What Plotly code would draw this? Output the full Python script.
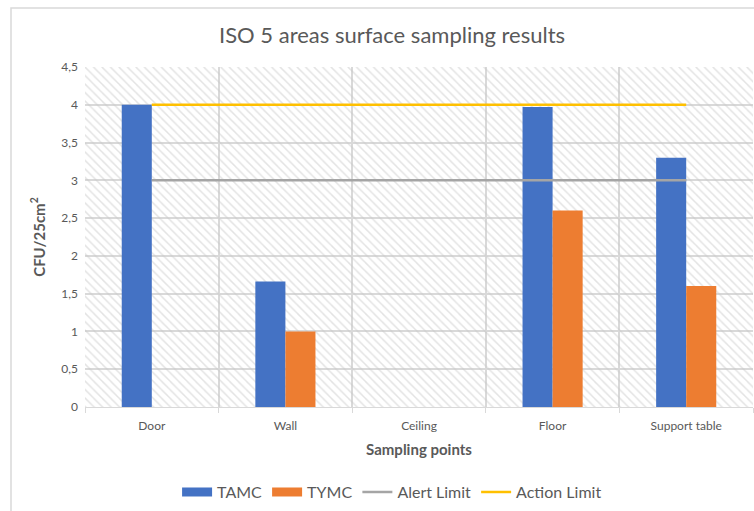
import plotly.graph_objects as go

# Sampling data (CFU/25 cm²)
categories = ["Door", "Wall", "Ceiling", "Floor", "Support table"]
tamc = [4.0, 1.66, 0.0, 3.97, 3.3]
tymc = [0.0, 1.0, 0.0, 2.6, 1.6]
alert_limit = [3, 3, 3, 3, 3]
action_limit = [4, 4, 4, 4, 4]
y_ticks = [0, 0.5, 1, 1.5, 2, 2.5, 3, 3.5, 4, 4.5]
y_tick_labels = ["0", "0,5", "1", "1,5", "2", "2,5", "3", "3,5", "4", "4,5"]

BLUE = "#4472C4"
ORANGE = "#ED7D31"
GREY = "#A5A5A5"
GOLD = "#FFC000"
GRID = "#D9D9D9"
TEXT = "#595959"
FONT = "Lato, 'Open Sans', sans-serif"

xs = list(range(len(categories)))
x_lo, x_hi = -0.5, len(categories) - 0.5
y_top = y_ticks[-1]
boundaries = [i - 0.5 for i in range(len(categories) + 1)]

fig = go.Figure()

# Diagonal hatched plot background on the base axes (drawn beneath the data)
fig.add_trace(go.Scatter(
    x=[x_lo, x_hi, x_hi, x_lo, x_lo], y=[0, 0, y_top, y_top, 0],
    mode="none", fill="toself", fillcolor="rgba(0,0,0,0)",
    fillpattern=dict(shape="\\", size=6, solidity=0.25,
                     fgcolor="#C8C8C8", bgcolor="rgba(0,0,0,0)"),
    hoverinfo="skip", showlegend=False,
))

# Data series on the overlaid axes
fig.add_trace(go.Bar(x=xs, y=tamc, name="TAMC", marker_color=BLUE,
                     marker_line_width=0, showlegend=False,
                     xaxis="x2", yaxis="y2"))
fig.add_trace(go.Bar(x=xs, y=tymc, name="TYMC", marker_color=ORANGE,
                     marker_line_width=0, showlegend=False,
                     xaxis="x2", yaxis="y2"))
fig.add_trace(go.Scatter(x=xs, y=alert_limit, mode="lines", name="Alert Limit",
                         line=dict(color=GREY, width=2.5), showlegend=False,
                         xaxis="x2", yaxis="y2"))
fig.add_trace(go.Scatter(x=xs, y=action_limit, mode="lines", name="Action Limit",
                         line=dict(color=GOLD, width=2.5), showlegend=False,
                         xaxis="x2", yaxis="y2"))

# Legend entries (wide swatches for the bar series)
for name, color, width in [("TAMC", BLUE, 9), ("TYMC", ORANGE, 9),
                           ("Alert Limit", GREY, 2.5), ("Action Limit", GOLD, 2.5)]:
    fig.add_trace(go.Scatter(x=[None], y=[None], mode="lines", name=name,
                             line=dict(color=color, width=width),
                             xaxis="x2", yaxis="y2"))

fig.update_layout(
    width=754, height=511,
    margin=dict(l=85, r=1, t=67, b=104),
    paper_bgcolor="white", plot_bgcolor="white",
    font=dict(family=FONT, color=TEXT),
    barmode="group", bargap=0.55, bargroupgap=0,
    title=dict(text="ISO 5 areas surface sampling results",
               font=dict(size=22, color=TEXT, family=FONT),
               x=0.52, xref="container", xanchor="center",
               y=1 - 35 / 511, yref="container", yanchor="middle"),
    legend=dict(orientation="h", xref="container", yref="container",
                x=0.52, xanchor="center", y=0.037, yanchor="middle",
                font=dict(size=16, color=TEXT), itemwidth=30,
                traceorder="normal"),
    shapes=[dict(type="rect", xref="paper", yref="paper",
                 x0=(11 - 85) / 668, x1=1.2, y0=-0.5, y1=(407 - 8) / 340,
                 line=dict(color=GRID, width=1.5), fillcolor="rgba(0,0,0,0)",
                 layer="below")],
    xaxis=dict(
        range=[x_lo, x_hi], tickmode="array", tickvals=xs, ticktext=categories,
        ticks="", showgrid=False, zeroline=False,
        showline=True, linecolor=GRID, linewidth=1,
        tickfont=dict(size=12, color=TEXT), ticklabelstandoff=8,
        minor=dict(tickmode="array", tickvals=boundaries, ticks="outside",
                   ticklen=5, tickcolor=GRID, showgrid=True, gridcolor=GRID,
                   gridwidth=1.5),
        title=dict(text="<b>Sampling points</b>", font=dict(size=15, color=TEXT),
                   standoff=12),
    ),
    yaxis=dict(
        range=[0, y_top], tickmode="array", tickvals=y_ticks, ticktext=y_tick_labels,
        showgrid=True, gridcolor=GRID, gridwidth=1.5, zeroline=False,
        tickfont=dict(size=12, color=TEXT), ticks="", ticklabelstandoff=6,
        title=dict(text="<b>CFU/25cm<sup>2</sup></b>", font=dict(size=15, color=TEXT),
                   standoff=12),
    ),
    xaxis2=dict(overlaying="x", range=[x_lo, x_hi], visible=False,
                showgrid=False, zeroline=False),
    yaxis2=dict(overlaying="y", range=[0, y_top], visible=False,
                showgrid=False, zeroline=False),
)

fig.write_html("out.html")
